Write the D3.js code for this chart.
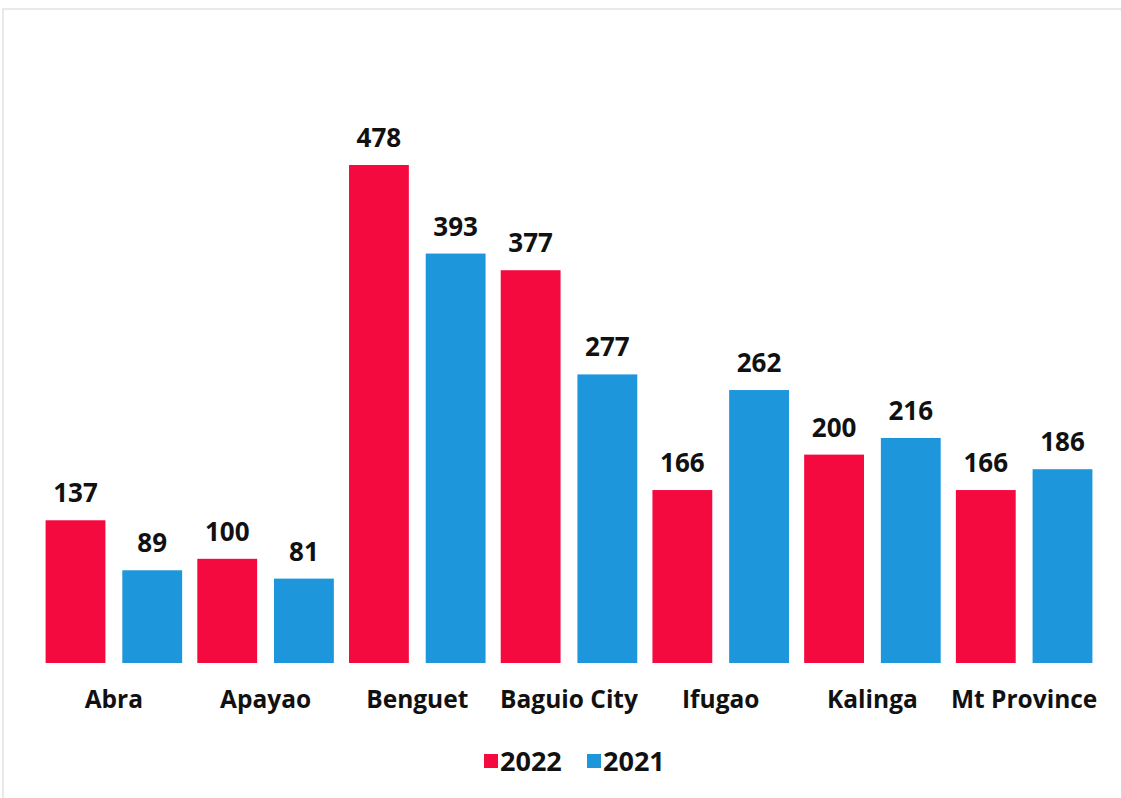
<!DOCTYPE html>
<html>
<head>
<meta charset="utf-8">
<script src="https://cdn.jsdelivr.net/npm/d3@7"></script>
<style>
  body { margin: 0; background: #fff; }
  text { font-family: "Open Sans", Lato, sans-serif; font-weight: bold; fill: #111; }
</style>
</head>
<body>
<svg width="1121" height="798"></svg>
<script>
var provinces = ["Abra", "Apayao", "Benguet", "Baguio City", "Ifugao", "Kalinga", "Mt Province"];
var years = ["2022", "2021"];
var values2022 = [137, 100, 478, 377, 166, 200, 166];
var values2021 = [89, 81, 393, 277, 262, 216, 186];
var colors = ["#f50a40", "#1e96dc"];

var svg = d3.select("svg"),
    margin = {top: 165, right: 21, bottom: 135, left: 38},
    width = svg.attr("width") - margin.left - margin.right,
    height = svg.attr("height") - margin.top - margin.bottom;

// faint frame like the scanned original
svg.append("path")
    .attr("d", "M3,798 L3,9 L1121,9")
    .attr("fill", "none")
    .attr("stroke", "#e2e2e2")
    .attr("stroke-width", 1.5);

var data = provinces.map(function(p, i) {
    return {name: p, vals: [values2022[i], values2021[i]]};
});

var x0 = d3.scaleBand().domain(provinces).range([0, width]).paddingInner(0.1).paddingOuter(0.05);
var x1 = d3.scaleBand().domain(years).range([0, x0.bandwidth()]).paddingInner(0.22);
var y = d3.scaleLinear().domain([0, 478]).range([height, 0]);

var g = svg.append("g")
    .attr("transform", "translate(" + margin.left + "," + margin.top + ")");

var group = g.selectAll(".grp").data(data).enter().append("g")
    .attr("class", "grp")
    .attr("transform", function(d) { return "translate(" + x0(d.name) + ",0)"; });

var bars = group.selectAll("g.bar").data(function(d) {
    return d.vals.map(function(v, i) { return {year: years[i], v: v, i: i}; });
}).enter().append("g").attr("class", "bar");

bars.append("rect")
    .attr("x", function(d) { return x1(d.year); })
    .attr("y", function(d) { return y(d.v); })
    .attr("width", x1.bandwidth())
    .attr("height", function(d) { return height - y(d.v); })
    .attr("fill", function(d) { return colors[d.i]; });

bars.append("text")
    .attr("x", function(d) { return x1(d.year) + x1.bandwidth() / 2; })
    .attr("y", function(d) { return y(d.v) - 18; })
    .attr("text-anchor", "middle")
    .style("font-size", "26px")
    .text(function(d) { return d.v; });

var xAxis = g.append("g")
    .attr("transform", "translate(0," + height + ")")
    .call(d3.axisBottom(x0).tickSize(0).tickPadding(28));
xAxis.select(".domain").remove();
xAxis.selectAll("text")
    .style("font-size", "24.5px")
    .style("font-family", "'Open Sans', Lato, sans-serif")
    .style("font-weight", "bold")
    .attr("fill", "#111");

var legend = svg.append("g").attr("transform", "translate(484,761)");
var legendX = [0, 103];
years.forEach(function(yr, i) {
    var item = legend.append("g").attr("transform", "translate(" + legendX[i] + ",0)");
    item.append("rect").attr("x", 0).attr("y", -7).attr("width", 14).attr("height", 14).attr("fill", colors[i]);
    item.append("text").attr("x", 16).attr("y", 10).style("font-size", "27px").text(yr);
});
</script>
</body>
</html>
